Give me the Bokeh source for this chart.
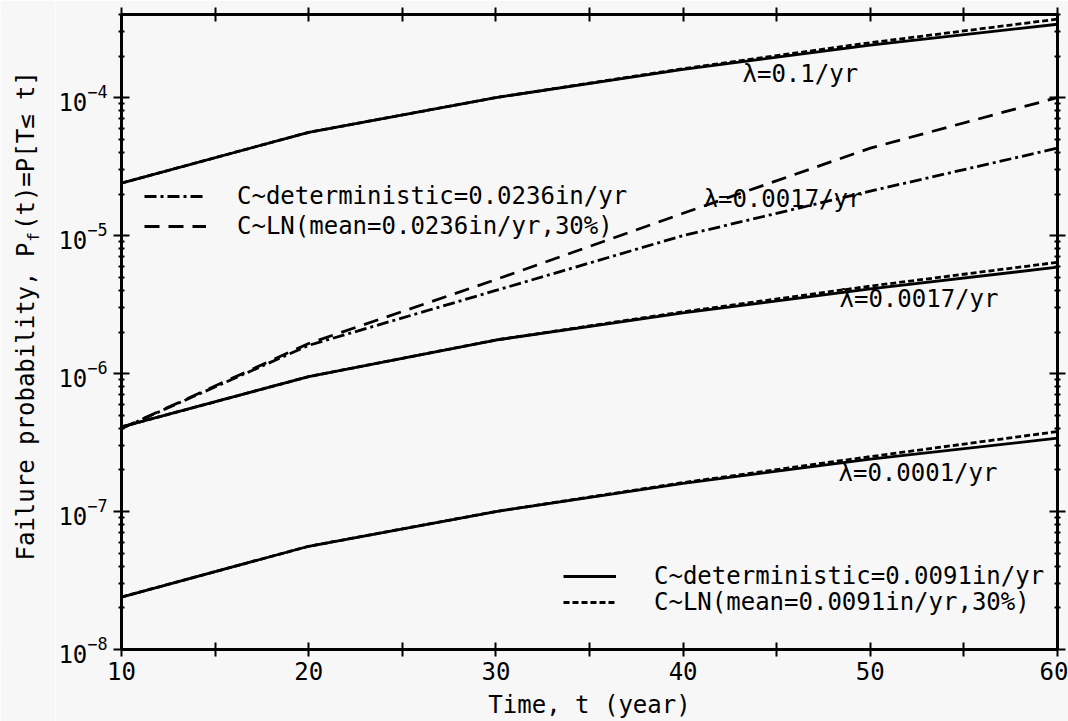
import math
from bokeh.plotting import figure
from bokeh.layouts import row
from bokeh.models import (FixedTicker, LinearAxis, LogAxis, Legend, LegendItem, Label,
                          Range1d, CustomJSTickFormatter)
from bokeh.core.properties import value
from bokeh.embed import file_html
from bokeh.resources import INLINE

# ---------------- data ----------------
t = [10, 20, 30, 40, 50, 60]

lam01_det = [2.4e-5, 5.6e-5, 1.0e-4, 1.6e-4, 2.4e-4, 3.4e-4]
lam01_ln = [2.4e-5, 5.6e-5, 1.0e-4, 1.62e-4, 2.5e-4, 3.7e-4]
lam0017_det = [4.1e-7, 9.5e-7, 1.75e-6, 2.75e-6, 4.1e-6, 5.9e-6]
lam0017_ln = [4.1e-7, 9.5e-7, 1.75e-6, 2.8e-6, 4.3e-6, 6.4e-6]
lam0001_det = [2.4e-8, 5.6e-8, 1.0e-7, 1.6e-7, 2.4e-7, 3.4e-7]
lam0001_ln = [2.4e-8, 5.6e-8, 1.0e-7, 1.62e-7, 2.5e-7, 3.8e-7]
c0236_det = [4.0e-7, 1.6e-6, 4.0e-6, 1.0e-5, 2.1e-5, 4.3e-5]
c0236_ln = [4.0e-7, 1.65e-6, 4.8e-6, 1.45e-5, 4.3e-5, 1.0e-4]

x_ticks = [10, 20, 30, 40, 50, 60]
x_minor = [15, 25, 35, 45, 55]
y_ticks = [1e-8, 1e-7, 1e-6, 1e-5, 1e-4]

legend_texts = ["C~deterministic=0.0236in/yr", "C~LN(mean=0.0236in/yr,30%)",
                "C~deterministic=0.0091in/yr", "C~LN(mean=0.0091in/yr,30%)"]
curve_labels = ["\u03bb=0.1/yr", "\u03bb=0.0017/yr", "\u03bb=0.0017/yr", "\u03bb=0.0001/yr"]
x_title = "Time, t (year)"
y_title_main = "Failure probability, P"
y_title_sub = "f"
y_title_rest = "(t)=P[T\u2264 t]"

FONT = "DejaVu Sans Mono"
FS = "24px"
BG = "#f7f7f7"
TW = 55  # width of the side strip that carries the y title
BT, BB = 14, 72  # top / bottom borders (frame from y=14 to y=649)

y_minor = [m * 10.0 ** e for e in range(-8, -3) for m in range(2, 10)] + [2e-4, 3e-4]

p = figure(width=1068 - TW, height=721, y_axis_type="log",
           x_range=Range1d(10, 60), y_range=Range1d(1e-8, 4e-4),
           output_backend="svg", toolbar_location=None,
           min_border_left=120 - TW, min_border_right=11, min_border_top=BT, min_border_bottom=BB,
           background_fill_color=BG, border_fill_color=BG)
p.grid.visible = False
p.outline_line_color = "black"
p.outline_line_width = 3

blank = CustomJSTickFormatter(code="return ''")


def style_x(ax, labels=True):
    ax.ticker = FixedTicker(ticks=x_ticks, minor_ticks=x_minor)
    ax.axis_line_width = 3
    ax.major_tick_line_width = 2
    ax.minor_tick_line_width = 2
    ax.major_tick_in = 7
    ax.major_tick_out = 7
    ax.minor_tick_in = 7
    ax.minor_tick_out = 7
    ax.major_label_text_font = FONT
    ax.major_label_text_font_size = FS
    ax.major_label_text_color = "black"
    ax.major_label_standoff = 5
    if not labels:
        ax.formatter = blank
        ax.major_label_standoff = 0


def style_y(ax, labels=True):
    ax.ticker = FixedTicker(ticks=y_ticks, minor_ticks=y_minor)
    ax.axis_line_width = 3
    ax.major_tick_line_width = 2
    ax.minor_tick_line_width = 2
    ax.major_tick_in = 8
    ax.major_tick_out = 8
    ax.minor_tick_in = 3
    ax.minor_tick_out = 3
    ax.major_label_text_font = FONT
    ax.major_label_text_font_size = FS
    ax.major_label_text_color = "black"
    ax.major_label_standoff = 6
    if not labels:
        ax.formatter = blank
        ax.major_label_standoff = 0


style_x(p.xaxis[0])
p.xaxis[0].axis_label = x_title
p.xaxis[0].axis_label_text_font = FONT
p.xaxis[0].axis_label_text_font_size = FS
p.xaxis[0].axis_label_text_font_style = "normal"
p.xaxis[0].axis_label_text_color = "black"
p.xaxis[0].axis_label_standoff = 8
style_y(p.yaxis[0])

top = LinearAxis()
style_x(top, labels=False)
p.add_layout(top, "above")
right = LogAxis()
style_y(right, labels=False)
p.add_layout(right, "right")

# ---------------- curves ----------------
W = 2.8
r_01_ln = p.line(t, lam01_ln, line_color="black", line_width=W, line_dash="6 3")
r_01 = p.line(t, lam01_det, line_color="black", line_width=W)
r_17_ln = p.line(t, lam0017_ln, line_color="black", line_width=W, line_dash="6 3")
r_17 = p.line(t, lam0017_det, line_color="black", line_width=W)
r_01b_ln = p.line(t, lam0001_ln, line_color="black", line_width=W, line_dash="6 3")
r_01b = p.line(t, lam0001_det, line_color="black", line_width=W)
r_c_det = p.line(t, c0236_det, line_color="black", line_width=W, line_dash="12 4 3 4")
r_c_ln = p.line(t, c0236_ln, line_color="black", line_width=W, line_dash="15 9")


def one_legend(text, rend, vx, vy, gw, standoff, fs, h):
    lg = Legend(items=[LegendItem(label=text, renderers=[rend])],
                location=(vx, vy), orientation="vertical",
                padding=0, margin=0, spacing=0,
                glyph_width=gw, glyph_height=h, label_height=h,
                label_standoff=standoff,
                label_text_font=FONT, label_text_font_size=fs, label_text_color="black",
                background_fill_alpha=0, border_line_alpha=0)
    p.add_layout(lg, "center")


one_legend(legend_texts[0], r_c_det, 23, 439, 62, 31, FS, 28)
one_legend(legend_texts[1], r_c_ln, 23, 409, 62, 31, FS, 28)
one_legend(legend_texts[2], r_01b, 442, 59, 53, 38, FS, 28)
one_legend(legend_texts[3], r_01b_ln, 442, 33, 53, 38, FS, 28)

# ---------------- curve labels (screen units relative to frame) ----------------
label_pos = [(621, 576), (582, 451), (718, 351), (717, 177)]
for txt, (sx, sy) in zip(curve_labels, label_pos):
    p.add_layout(Label(x=sx, y=sy, x_units="screen", y_units="screen", text=txt,
                       text_font=FONT, text_font_size=FS, text_color="black",
                       text_align="left", text_baseline="middle"))

# ---------------- y-axis title strip (rotated text, with subscript) ----------------
# the strip's frame is aligned with the main frame; its y units are pixels from the page bottom
side = figure(width=TW, height=721, x_range=Range1d(0, TW), y_range=Range1d(BB, 721 - BT),
              output_backend="svg", toolbar_location=None,
              x_axis_location=None, y_axis_location=None,
              min_border_left=0, min_border_right=0, min_border_top=BT, min_border_bottom=BB,
              background_fill_color=BG, border_fill_color=BG)
side.grid.visible = False
side.outline_line_color = None
adv = 0.602 * 24
y0 = 721 - 560
y1 = y0 + len(y_title_main) * adv + 1
y2 = y1 + 0.602 * 16 + 2
side.text(x=[25], y=[y0], text=[y_title_main], angle=math.pi / 2,
          text_font=value(FONT), text_font_size="24px", text_color="black",
          text_align="left", text_baseline="middle")
side.text(x=[33], y=[y1], text=[y_title_sub], angle=math.pi / 2,
          text_font=value(FONT), text_font_size="16px", text_color="black",
          text_align="left", text_baseline="middle")
side.text(x=[25], y=[y2], text=[y_title_rest], angle=math.pi / 2,
          text_font=value(FONT), text_font_size="24px", text_color="black",
          text_align="left", text_baseline="middle")

layout = row(side, p, spacing=0)
open("out.html", "w").write(file_html(layout, INLINE))
